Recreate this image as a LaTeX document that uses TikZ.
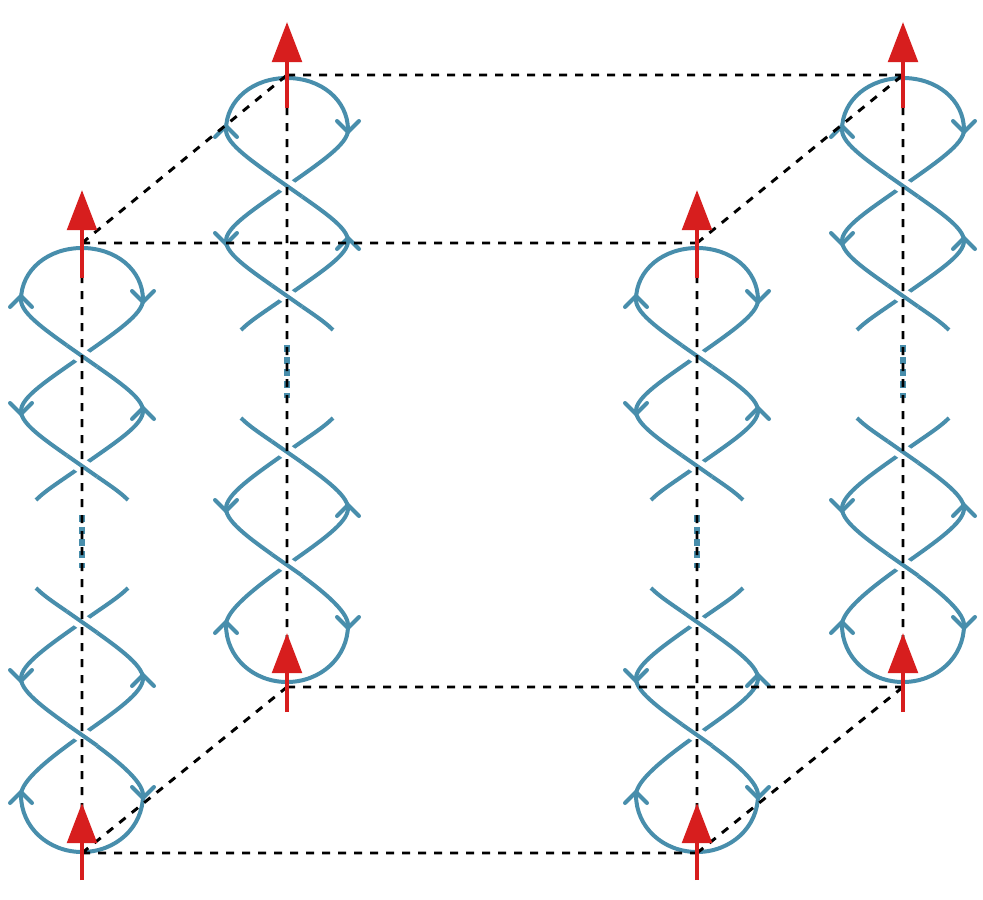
\documentclass[tikz,border=0pt]{standalone}
\usetikzlibrary{arrows.meta}
\definecolor{strand}{RGB}{72,142,172}
\definecolor{redarr}{RGB}{215,30,30}
\tikzset{
  x=0.75pt,y=-0.75pt,
  str/.style={draw=strand,line width=3pt},
  vee/.style={draw=strand,line width=3pt,line cap=round,line join=miter},
  edge/.style={draw=black,line width=2.2pt,dash pattern=on 6pt off 6pt},
  redar/.style={draw=redarr,line width=3.2pt,-{Triangle[length=30pt,width=22pt]}},
}
\newcommand{\upv}[2]{\draw[vee] (#1-11,#2+11) -- (#1,#2) -- (#1+11,#2+11);}
\newcommand{\dnv}[2]{\draw[vee] (#1-11,#2-11) -- (#1,#2) -- (#1+11,#2-11);}
% leaf: cx, y0, y1, side
\newcommand{\leaf}[4]{\draw[str] (#1,#2) .. controls (#1+#4*34,#2+24) and (#1+#4*61,{(#2+#3)/2-14}) .. (#1+#4*61,{(#2+#3)/2}) .. controls (#1+#4*61,{(#2+#3)/2+14}) and (#1+#4*34,#3-24) .. (#1,#3);}
% top half: cx, crossing, top, side
\newcommand{\tophalf}[4]{\draw[str] (#1,#2) .. controls (#1+#4*34,#2-24) and (#1+#4*61,#3+66) .. (#1+#4*61,#3+52) .. controls (#1+#4*61,#3+22) and (#1+#4*34,#3) .. (#1,#3);}
\newcommand{\bothalf}[4]{\draw[str] (#1,#2) .. controls (#1+#4*34,#2+24) and (#1+#4*61,#3-71) .. (#1+#4*61,#3-57) .. controls (#1+#4*61,#3-25) and (#1+#4*34,#3) .. (#1,#3);}
\newcommand{\braidcol}[2]{% cx, dy
\begin{scope}[yshift={-0.75*#2 pt}]
\def\cx{#1}
\pgfmathsetmacro{\L}{#1-61}\pgfmathsetmacro{\R}{#1+61}
\tophalf{\cx}{356}{248}{-1}\tophalf{\cx}{356}{248}{1}
\leaf{\cx}{356}{466}{-1}\leaf{\cx}{356}{466}{1}
\draw[str] (\cx,466) .. controls (\cx-21,481) and (\cx-36,490) .. (\cx-46,500);
\draw[str] (\cx,466) .. controls (\cx+21,481) and (\cx+36,490) .. (\cx+46,500);
\draw[str] (\cx,622) .. controls (\cx-21,607) and (\cx-36,598) .. (\cx-46,588);
\draw[str] (\cx,622) .. controls (\cx+21,607) and (\cx+36,598) .. (\cx+46,588);
\leaf{\cx}{622}{735}{-1}\leaf{\cx}{622}{735}{1}
\bothalf{\cx}{735}{852}{-1}\bothalf{\cx}{735}{852}{1}
% arrowheads
\upv{\L}{296}\dnv{\R}{302}
\dnv{\L}{414}\upv{\R}{408}
\dnv{\L}{681}\upv{\R}{675}
\upv{\L}{792}\dnv{\R}{798}
% over-crossings
\foreach \c in {356,466,622,735}
  \draw[draw=strand,line width=3pt,preaction={draw=white,line width=11pt}] (\cx-15,\c-10.5) -- (\cx+15,\c+10.5);
% dots
\draw[draw=strand,line width=4pt,dash pattern=on 5pt off 4pt] (\cx,515) -- (\cx,568);
\end{scope}}
\begin{document}
\begin{tikzpicture}
\fill[white] (0,0) rectangle (983,900);
\useasboundingbox (0,0) rectangle (983,900);
\braidcol{82}{0}
\braidcol{697}{0}
\braidcol{287}{-170}
\braidcol{903}{-170}
% cube corners
\coordinate (a) at (82,243); \coordinate (b) at (697,243);
\coordinate (c) at (697,853); \coordinate (d) at (82,853);
\coordinate (e) at (287,75); \coordinate (f) at (903,75);
\coordinate (g) at (903,687); \coordinate (h) at (287,687);
\draw[edge] (a)--(b) (d)--(c) (e)--(f) (h)--(g)
  (a)--(d) (b)--(c) (e)--(h) (f)--(g)
  (a)--(e) (b)--(f) (c)--(g) (d)--(h);
% red arrows
\coordinate (t1s) at (82,278); \coordinate (t1e) at (82,190);
\coordinate (t2s) at (697,278); \coordinate (t2e) at (697,190);
\coordinate (t3s) at (287,108); \coordinate (t3e) at (287,22);
\coordinate (t4s) at (903,108); \coordinate (t4e) at (903,22);
\coordinate (b1s) at (82,880); \coordinate (b1e) at (82,803);
\coordinate (b2s) at (697,880); \coordinate (b2e) at (697,803);
\coordinate (b3s) at (287,712); \coordinate (b3e) at (287,633);
\coordinate (b4s) at (903,712); \coordinate (b4e) at (903,633);
\foreach \n in {t1,t2,t3,t4,b1,b2,b3,b4}
  \draw[redar] (\n s) -- (\n e);
\end{tikzpicture}
\end{document}
